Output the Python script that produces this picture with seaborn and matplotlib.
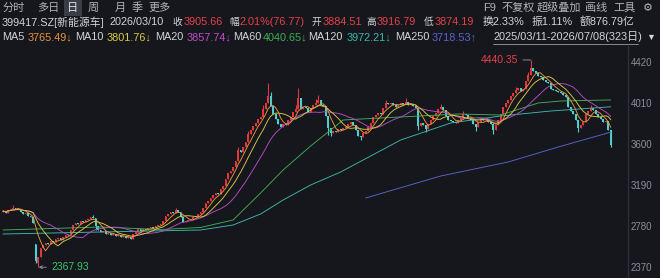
import numpy as np
import pandas as pd
import matplotlib
matplotlib.use("Agg")
import matplotlib.pyplot as plt
import seaborn as sns
from matplotlib.patches import Rectangle
from matplotlib.lines import Line2D

sns.set_theme(style="dark")
FONTS = ["Liberation Sans", "DejaVu Sans", "Noto Sans CJK SC"]
plt.rcParams["font.family"] = FONTS

BG = "#15171c"
UP = "#e0363e"
DOWN = "#4ccfcf"
RED_TXT = "#e8404a"

# ---------------- data ----------------
close = [
    2930, 2915, 2945, 2950, 2965, 2950, 2955, 2925, 2900, 2910,
    2880, 2870, 2815, 2430, 2470, 2560, 2590, 2610, 2600, 2630,
    2620, 2650, 2660, 2640, 2670, 2690, 2700, 2740, 2790, 2810,
    2800, 2830, 2820, 2840, 2850, 2870, 2860, 2780, 2740, 2720,
    2730, 2700, 2710, 2690, 2700, 2680, 2690, 2670, 2680, 2660,
    2670, 2650, 2700, 2730, 2750, 2730, 2750, 2740, 2760, 2770,
    2760, 2780, 2790, 2800, 2830, 2880, 2900, 2920, 2910, 2940,
    2920, 2870, 2820, 2830, 2840, 2850, 2870, 2880, 2900, 2920,
    2960, 3010, 3030, 3060, 3090, 3110, 3100, 3150, 3180, 3250,
    3310, 3330, 3370, 3430, 3540, 3520, 3570, 3620, 3700, 3740,
    3780, 3810, 3850, 3870, 3950, 4010, 4080, 3980, 3900, 3850,
    3800, 3770, 3800, 3790, 3840, 3870, 3920, 3950, 4060, 3950,
    3970, 3960, 3920, 3960, 3990, 4010, 4040, 3990, 3980, 3880,
    3760, 3710, 3730, 3720, 3750, 3740, 3760, 3770, 3800, 3820,
    3790, 3740, 3680, 3670, 3710, 3730, 3770, 3810, 3870, 3890,
    3910, 3900, 3960, 4010, 4000, 4010, 3990, 3970, 3990, 4010,
    4000, 4020, 3990, 4000, 3980, 3960, 3780, 3810, 3790, 3750,
    3800, 3840, 3880, 3910, 3950, 3970, 3940, 3880, 3840, 3830,
    3820, 3810, 3840, 3860, 3900, 3890, 3860, 3840, 3800, 3770,
    3820, 3850, 3840, 3850, 3820, 3800, 3740, 3790, 3840, 3900,
    3970, 4010, 4040, 4080, 4110, 4140, 4160, 4130, 4150, 4230,
    4290, 4360, 4330, 4310, 4280, 4270, 4240, 4220, 4210, 4150,
    4140, 4130, 4120, 4110, 4090, 4070, 3970, 3930, 3900, 3840,
    3760, 3790, 3820, 3900, 3930, 3960, 3940, 3900, 3870, 3850,
    3820, 3830, 3740, 3590,
]
first_open = 2925
gap_open_idx = [13, 14]
gap_open_val = [2600, 2410]

high_idx = [4, 36, 69, 94, 98, 104, 106, 107, 117, 118, 125, 126, 153, 161, 175, 184, 205, 210, 211, 235]
high_val = [2990, 2890, 2960, 3570, 3730, 3990, 4210, 4120, 3990, 4160, 4050, 4090, 4040, 4060, 4000, 3930, 4170, 4320, 4440.35, 3990]
low_idx = [13, 14, 37, 130, 131, 143, 166, 169, 189, 196, 230, 243]
low_val = [2410, 2367.93, 2740, 3690, 3680, 3640, 3740, 3720, 3730, 3700, 3720, 3570]

ma60_idx = [0, 39, 63, 79, 92, 103, 112, 123, 136, 143, 159, 182, 199, 214, 223, 243]
ma60_val = [2740, 2770, 2745, 2765, 2840, 3110, 3340, 3580, 3840, 3850, 3870, 3900, 3890, 4010, 4030, 4040.65]
ma120_idx = [0, 39, 79, 92, 103, 112, 123, 135, 159, 179, 199, 219, 243]
ma120_val = [2700, 2720, 2740, 2790, 2900, 3040, 3190, 3320, 3640, 3810, 3880, 3930, 3972.21]
ma250_idx = [145, 175, 202, 222, 243]
ma250_val = [3060, 3280, 3420, 3570, 3718.53]

yticks = [2370, 2780, 3190, 3600, 4010, 4420]

# ---------------- build OHLC frame ----------------
c = np.array(close, dtype=float)
N = len(c)
o = np.r_[first_open, c[:-1]]
for i, v in zip(gap_open_idx, gap_open_val):
    o[i] = v
h = np.maximum(o, c)
l = np.minimum(o, c)
for i, v in zip(high_idx, high_val):
    h[i] = v
for i, v in zip(low_idx, low_val):
    l[i] = v
df = pd.DataFrame({"i": np.arange(N), "open": o, "close": c, "high": h, "low": l})
for n in (5, 10, 20):
    df[f"ma{n}"] = df["close"].rolling(n, min_periods=1).mean()
up = df["close"] >= df["open"]
cols = np.where(up, UP, DOWN)

# ---------------- figure ----------------
W, H = 660, 278
fig = plt.figure(figsize=(W / 100, H / 100), dpi=100, facecolor=BG)
ax = fig.add_axes([0, 0, 628 / W, 232 / H])
ax.set_facecolor(BG)

ax.vlines(df["i"], df["low"], df["high"], colors=cols, linewidth=0.8, zorder=2)
body = np.maximum(np.abs(df["close"] - df["open"]), 8)
ax.bar(df["i"], body, bottom=np.minimum(df["open"], df["close"]), width=0.72,
       color=cols, linewidth=0, zorder=3)

lw = 0.65
sns.lineplot(x=ma250_idx, y=ma250_val, ax=ax, color="#5d62cf", linewidth=lw, zorder=4)
sns.lineplot(x=ma120_idx, y=ma120_val, ax=ax, color="#3cb8ab", linewidth=lw, zorder=4)
sns.lineplot(x=ma60_idx, y=ma60_val, ax=ax, color="#3fae55", linewidth=lw, zorder=4)
sns.lineplot(data=df, x="i", y="ma20", ax=ax, color="#b64cc4", linewidth=lw, zorder=4)
sns.lineplot(data=df, x="i", y="ma10", ax=ax, color="#d9c94a", linewidth=lw, zorder=4)
sns.lineplot(data=df, x="i", y="ma5", ax=ax, color="#e8963a", linewidth=lw, zorder=4)

ax.set_xlim(-1.2, 249.9)
ax.set_ylim(2260, 4580)
ax.grid(False)
ax.set_xlabel("")
ax.set_ylabel("")
ax.set_xticks([])
ax.yaxis.tick_right()
ax.set_yticks(yticks)
ax.set_yticklabels([str(v) for v in yticks])
ax.tick_params(axis="y", length=0, pad=2, labelsize=7, labelcolor="#8c8f96")
for s in ("left", "top", "bottom"):
    ax.spines[s].set_visible(False)
ax.spines["right"].set_color("#2c2f36")
ax.spines["right"].set_linewidth(1)

# extreme labels
imax = int(np.argmax(df["high"]))
imin = int(np.argmin(df["low"]))
ax.annotate(f"{df['high'][imax]:.2f}", xy=(imax, df["high"][imax]), xytext=(imax - 5, df["high"][imax]),
            ha="right", va="center", fontsize=7.5, color=RED_TXT,
            arrowprops=dict(arrowstyle="-", color="#9a9ca2", lw=0.6, shrinkA=1, shrinkB=0))
ax.annotate(f"{df['low'][imin]:.2f}", xy=(imin + 0.3, df["low"][imin]), xytext=(imin + 5.2, df["low"][imin]),
            ha="left", va="center", fontsize=7.5, color="#3cc46a",
            arrowprops=dict(arrowstyle="->", color="#9a9ca2", lw=0.6, shrinkA=1, shrinkB=0,
                            mutation_scale=5))

# ---------------- header texts ----------------
def T(x, y, s, color="#c9cbd0", size=7.8, **kw):
    fig.text(x / W, 1 - y / H, s, color=color, fontsize=size, ha="left", va="center", **kw)

fig.patches.append(Rectangle((64 / W, 1 - 16 / H), 18 / W, 16 / H, transform=fig.transFigure,
                             facecolor="#3a3d45", edgecolor="none"))
row1 = [("分时", 3), ("多日", 37), ("日", 67), ("周", 88), ("月", 115), ("季", 132), ("更多", 148)]
for s, x in row1:
    T(x, 8, s, color="#e6e7ea" if s == "日" else "#b0b2b8", size=8)
row1r = [("F9", 483), ("不复权", 502), ("超级叠加", 537), ("画线", 585), ("工具", 613), ("⚙", 643)]
for s, x in row1r:
    T(x, 8, s, color="#b0b2b8", size=8)

W2 = "#d2d4d8"
T(2, 22, "399417.SZ[新能源车]", W2)
T(110, 22, "2026/03/10", W2)
T(172.5, 22, "收", W2, size=7); T(184, 22, "3905.66", RED_TXT)
T(229, 22, "幅", W2, size=7); T(240, 22, "2.01%(76.77)", RED_TXT)
T(312, 22, "开", W2, size=7); T(323, 22, "3884.51", RED_TXT)
T(366, 22, "高", W2, size=7); T(377, 22, "3916.79", RED_TXT)
T(424, 22, "低", W2, size=7); T(435, 22, "3874.19", RED_TXT)
T(483, 22, "换2.33%", W2)
T(532, 22, "振1.11%", W2)
T(580, 22, "额876.79亿", W2)

ma_txt = [("MA5", 2, "3765.49↓", 28, "#e8963a"), ("MA10", 75, "3801.76↓", 107, "#d9c94a"),
          ("MA20", 155, "3857.74↓", 187, "#c04ccc"), ("MA60", 233, "4040.65↓", 263, "#3fae55"),
          ("MA120", 308, "3972.21↓", 347, "#3cb8ab"), ("MA250", 395, "3718.53↑", 432, "#5d62cf")]
for lab, x1, val, x2, col in ma_txt:
    T(x1, 37, lab, W2)
    T(x2, 37, val, col)
T(493, 37, "2025/03/11-2026/07/08(323日)", W2, size=7.9)
fig.lines.append(Line2D([493 / W, 638 / W], [1 - 44 / H, 1 - 44 / H], transform=fig.transFigure,
                        color="#9a9ca2", linewidth=0.6))
T(646, 37, "▼", W2, size=6.5)

fig.savefig("out.png", dpi=100, facecolor=BG)
